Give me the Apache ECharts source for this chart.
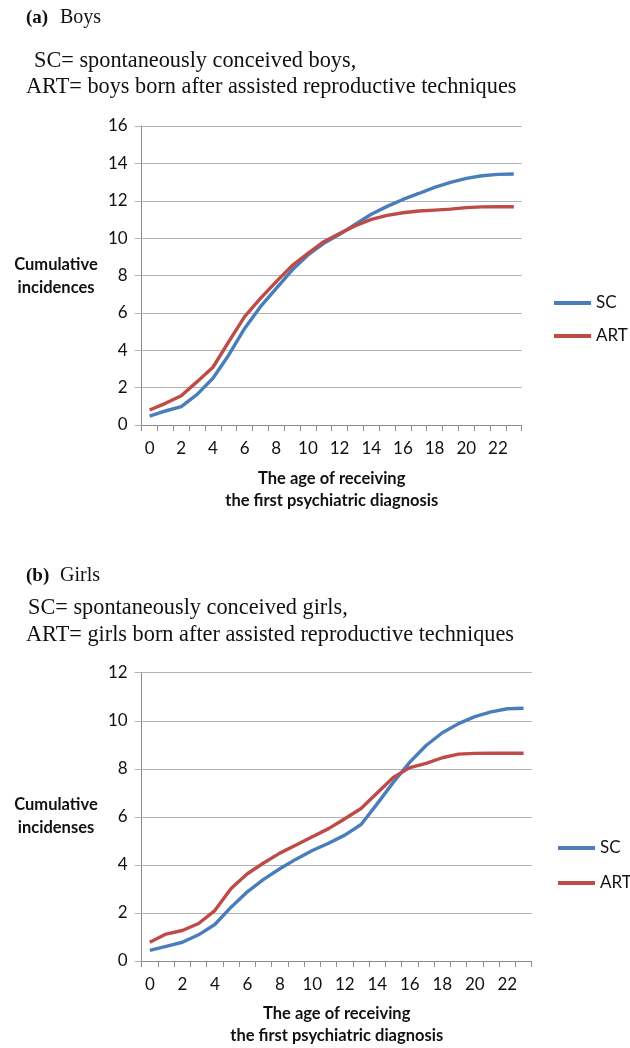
<!DOCTYPE html>
<html lang="en">
  <head>
    <meta charset="UTF-8" />
    <title>Cumulative incidences</title>
    <style>
      html, body { margin: 0; padding: 0; background: #fff; }
      #main { width: 630px; height: 1048px; }
    </style>
  </head>
  <body>
    <div id="main"></div>
    <script src="https://cdn.jsdelivr.net/npm/echarts@6/dist/echarts.min.js"></script>
    <script>
      const myChart = echarts.init(document.getElementById('main'))

      // ages 0..23
      var ages = ['0','1','2','3','4','5','6','7','8','9','10','11','12','13','14','15','16','17','18','19','20','21','22','23']
      // (a) boys
      var boysSC = [0.48, 0.75, 0.98, 1.64, 2.5, 3.75, 5.17, 6.33, 7.31, 8.29, 9.1, 9.72, 10.2, 10.75, 11.28, 11.7, 12.07, 12.39, 12.72, 12.98, 13.2, 13.34, 13.41, 13.43]
      var boysART = [0.8, 1.16, 1.57, 2.32, 3.09, 4.46, 5.8, 6.78, 7.67, 8.53, 9.19, 9.81, 10.25, 10.67, 11.0, 11.22, 11.36, 11.45, 11.5, 11.55, 11.63, 11.67, 11.68, 11.68]
      // (b) girls
      var girlsSC = [0.44, 0.61, 0.78, 1.09, 1.52, 2.24, 2.88, 3.4, 3.84, 4.24, 4.6, 4.9, 5.24, 5.68, 6.55, 7.45, 8.28, 8.97, 9.5, 9.88, 10.17, 10.37, 10.5, 10.52]
      var girlsART = [0.78, 1.12, 1.27, 1.56, 2.1, 3.02, 3.63, 4.08, 4.49, 4.83, 5.17, 5.51, 5.92, 6.35, 7.0, 7.65, 8.05, 8.23, 8.46, 8.61, 8.64, 8.65, 8.65, 8.65]
      var boysYMax = 16
      var girlsYMax = 12

      var blue = '#4a7ebb'
      var red = '#be4b48'
      var gridColor = '#b2b2b2'
      var labelFont = 'Lato, "Open Sans", sans-serif'
      var serifFont = '"Liberation Serif", "Times New Roman", serif'

      function xAxisFor(gridIndex, gap) {
        return {
          type: 'category',
          gridIndex: gridIndex,
          data: ages,
          boundaryGap: true,
          name: 'The age of receiving\nthe first psychiatric diagnosis',
          nameLocation: 'middle',
          nameGap: gap,
          nameTextStyle: {
            fontFamily: labelFont,
            fontWeight: 'bold',
            fontSize: 16.5,
            lineHeight: 22,
            color: '#111'
          },
          axisLine: { show: true, lineStyle: { color: '#8c8c8c', width: 1 } },
          axisTick: { show: true, interval: 0, length: 6, lineStyle: { color: '#8c8c8c' } },
          axisLabel: {
            interval: 1,
            margin: 15,
            fontFamily: labelFont,
            fontSize: 17,
            color: '#111'
          },
          splitLine: { show: false }
        }
      }

      function yAxisFor(gridIndex, max) {
        return {
          type: 'value',
          gridIndex: gridIndex,
          min: 0,
          max: max,
          interval: 2,
          axisLine: { show: true, lineStyle: { color: '#8c8c8c', width: 1 } },
          axisTick: { show: true, length: 7, lineStyle: { color: gridColor } },
          axisLabel: {
            margin: 14,
            fontFamily: labelFont,
            fontSize: 17,
            color: '#111'
          },
          splitLine: { show: true, lineStyle: { color: gridColor, width: 1 } }
        }
      }

      function lineSeries(name, data, color, idx) {
        return {
          name: name,
          type: 'line',
          xAxisIndex: idx,
          yAxisIndex: idx,
          data: data,
          showSymbol: false,
          symbol: 'none',
          color: color,
          lineStyle: { color: color, width: 3.4 },
          z: name === 'ART' ? 3 : 2
        }
      }

      function legendFor(top, gap, left) {
        return {
          orient: 'vertical',
          left: left,
          top: top,
          itemGap: gap,
          itemWidth: 37,
          itemHeight: 4,
          icon: 'rect',
          selectedMode: false,
          data: ['SC', 'ART'],
          textStyle: { fontFamily: labelFont, fontSize: 17, color: '#111', lineHeight: 18 }
        }
      }

      function text(x, y, str, font, size, weight, align, lh) {
        return {
          type: 'text',
          x: x,
          y: y,
          style: {
            text: str,
            fontFamily: font,
            fontSize: size,
            fontWeight: weight || 'normal',
            lineHeight: lh,
            fill: '#111',
            align: align || 'left',
            verticalAlign: 'middle'
          }
        }
      }

      option = {
        backgroundColor: '#fff',
        animation: false,
        grid: [
          { left: 141.7, top: 126, width: 380, height: 299 },
          { left: 141.7, top: 672.7, width: 390, height: 294 }
        ],
        xAxis: [xAxisFor(0, 43), xAxisFor(1, 42)],
        yAxis: [yAxisFor(0, boysYMax), yAxisFor(1, girlsYMax)],
        legend: [legendFor(289, 15, 549), legendFor(834, 17, 553)],
        graphic: [
          text(26, 18, '(a)', serifFont, 19, 'bold'),
          text(60, 18, 'Boys', serifFont, 20),
          text(34, 61, 'SC= spontaneously conceived boys,', serifFont, 22.3),
          text(26, 87, 'ART= boys born after assisted reproductive techniques', serifFont, 22.3),
          text(56, 276, 'Cumulative\nincidences', labelFont, 16.5, 'bold', 'center', 23),
          text(26, 576, '(b)', serifFont, 19, 'bold'),
          text(60, 576, 'Girls', serifFont, 20),
          text(28, 608, 'SC= spontaneously conceived girls,', serifFont, 22.3),
          text(26, 635, 'ART= girls born after assisted reproductive techniques', serifFont, 22.3),
          text(56, 816, 'Cumulative\nincidenses', labelFont, 16.5, 'bold', 'center', 23)
        ],
        series: [
          lineSeries('SC', boysSC, blue, 0),
          lineSeries('ART', boysART, red, 0),
          lineSeries('SC', girlsSC, blue, 1),
          lineSeries('ART', girlsART, red, 1)
        ]
      }

      myChart.setOption(option)
    </script>
  </body>
</html>
